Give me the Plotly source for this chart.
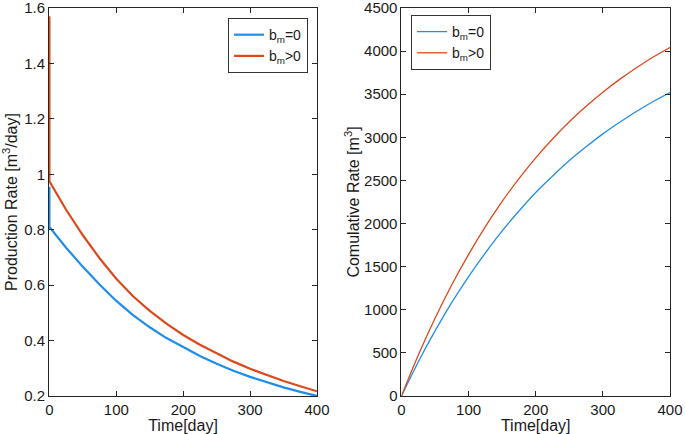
import plotly.graph_objects as go

# time axis [day]; the repeated 0 carries the initial jump of the rate curves
t_rate = [0, 0, 25, 50, 75, 100, 125, 150, 175, 200, 225, 250, 275, 300, 325, 350, 375, 400]
rate_b0 = [0.955, 0.81, 0.735, 0.666, 0.602, 0.543, 0.492, 0.448, 0.409, 0.375, 0.344,
           0.316, 0.291, 0.269, 0.249, 0.231, 0.215, 0.2]
rate_bpos = [1.57, 0.975, 0.872, 0.78, 0.697, 0.623, 0.56, 0.507, 0.461, 0.42, 0.385,
             0.353, 0.324, 0.298, 0.275, 0.254, 0.235, 0.217]

t_cum = [0, 25, 50, 75, 100, 125, 150, 175, 200, 225, 250, 275, 300, 325, 350, 375, 400]
cum_b0 = [0, 395, 755, 1085, 1385, 1660, 1915, 2145, 2360, 2550, 2730, 2890, 3040,
          3175, 3300, 3415, 3520]
cum_bpos = [0, 472, 901, 1290, 1643, 1965, 2257, 2521, 2762, 2981, 3180, 3360, 3524,
            3672, 3807, 3931, 4042]

y1_ticks = [0.2, 0.4, 0.6, 0.8, 1.0, 1.2, 1.4, 1.6]
y2_ticks = [0, 500, 1000, 1500, 2000, 2500, 3000, 3500, 4000, 4500]
x_ticks = [0, 100, 200, 300, 400]

names = ["b<sub>m</sub>=0", "b<sub>m</sub>>0"]
BLUE = "#1f8deb"
RED = "#db4a1c"
AX = "#262626"
FONT = "Liberation Sans, Arial, sans-serif"

fig = go.Figure()

fig.add_trace(go.Scatter(x=t_rate, y=rate_b0, mode="lines", name=names[0],
                         line=dict(color=BLUE, width=2.2),
                         xaxis="x", yaxis="y", legend="legend"))
fig.add_trace(go.Scatter(x=t_rate, y=rate_bpos, mode="lines", name=names[1],
                         line=dict(color=RED, width=2.2),
                         xaxis="x", yaxis="y", legend="legend"))
fig.add_trace(go.Scatter(x=t_cum, y=cum_b0, mode="lines", name=names[0],
                         line=dict(color=BLUE, width=1.3, shape="spline"),
                         xaxis="x2", yaxis="y2", legend="legend2"))
fig.add_trace(go.Scatter(x=t_cum, y=cum_bpos, mode="lines", name=names[1],
                         line=dict(color=RED, width=1.3, shape="spline"),
                         xaxis="x2", yaxis="y2", legend="legend2"))

axis_style = dict(showline=True, linecolor=AX, linewidth=1, mirror="ticks", ticks="inside",
                  ticklen=5, tickcolor=AX, showgrid=False, zeroline=False, automargin=False,
                  ticklabeloverflow="allow",
                  tickfont=dict(family=FONT, size=15, color="#1a1a1a"))
title_font = dict(family=FONT, size=16, color="#1a1a1a")

fig.update_layout(
    width=685, height=434,
    margin=dict(l=49, r=15, t=8, b=38),
    paper_bgcolor="white", plot_bgcolor="white",
    font=dict(family=FONT, size=15, color="#1a1a1a"),
    xaxis=dict(domain=[0, 0.4316], range=[-0.6, 400], tickvals=x_ticks, anchor="y",
               title=dict(text="Time[day]", font=title_font, standoff=0), **axis_style),
    yaxis=dict(domain=[0, 1], range=[0.2, 1.6], tickvals=y1_ticks, ticktext=[f"{v:g}" for v in y1_ticks],
               anchor="x",
               title=dict(text="Production Rate [m<sup>3</sup>/day]", font=title_font, standoff=2),
               **axis_style),
    xaxis2=dict(domain=[0.5676, 1.0], range=[0, 400], tickvals=x_ticks, anchor="y2",
                title=dict(text="Time[day]", font=title_font, standoff=0), **axis_style),
    yaxis2=dict(domain=[0, 1], range=[0, 4500], tickvals=y2_ticks, anchor="x2",
                title=dict(text="Comulative Rate [m<sup>3</sup>]", font=title_font, standoff=0),
                **axis_style),
    legend=dict(x=0.417, y=0.974, xanchor="right", yanchor="top", bgcolor="white",
                bordercolor="#333333", borderwidth=1, font=dict(family=FONT, size=14),
                tracegroupgap=0, itemwidth=30),
    legend2=dict(x=0.583, y=0.982, xanchor="left", yanchor="top", bgcolor="white",
                 bordercolor="#333333", borderwidth=1, font=dict(family=FONT, size=14),
                 tracegroupgap=0, itemwidth=30),
    showlegend=True,
)

# the page's default body margin would shift the figure by 8px
fig.write_html("out.html", config={"displayModeBar": False},
               post_script="document.body.style.margin='0';")
